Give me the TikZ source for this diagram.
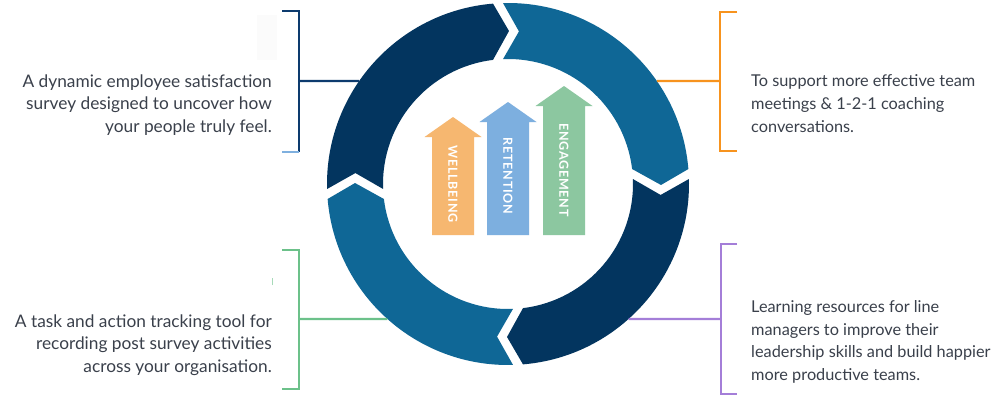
\documentclass[tikz,border=0pt]{standalone}
\usepackage{fontspec}
\setmainfont{Lato}
\definecolor{navy}{HTML}{03355F}
\definecolor{midblue}{HTML}{0F6796}
\definecolor{txtgray}{HTML}{3A404B}
\definecolor{brnavy}{HTML}{0D3B6E}
\definecolor{brlight}{HTML}{7FB0DF}
\definecolor{brorange}{HTML}{F7931E}
\definecolor{brgreen}{HTML}{6CC18A}
\definecolor{brpurple}{HTML}{A47ED8}
\definecolor{arrorange}{HTML}{F6B770}
\definecolor{arrblue}{HTML}{7DAFDF}
\definecolor{arrgreen}{HTML}{8CC7A0}
% ring segment: start break angle, end break angle, colour
\newcommand\ringseg[3]{%
  \fill[#3, shift={(508,216)}] ({#1+1.58}:181pt)
    arc[start angle={#1+1.58}, end angle={#2+4.75}, radius=181pt]
    -- ({#2-0.37}:153pt) -- ({#2+6.89}:125pt)
    arc[start angle={#2+6.89}, end angle={#1+2.29}, radius=125pt]
    -- ({#1-4.11}:153pt) -- cycle;}
% up arrow: centre x, bottom y, head base y, colour
\newcommand\uparr[4]{%
  \fill[#4] ({#1-21},#2) -- ({#1-21},#3) -- ({#1-28.5},#3) -- (#1,{#3+20})
    -- ({#1+28.5},#3) -- ({#1+21},#3) -- ({#1+21},#2) -- cycle;}
\begin{document}
\begin{tikzpicture}[x=1pt,y=1pt,
  desc/.style={font=\fontsize{17.3}{22.7}\selectfont, text=txtgray, inner sep=0pt},
  descr/.style={font=\fontsize{16.3}{22.7}\selectfont, text=txtgray, inner sep=0pt},
  brk/.style={line width=2.2pt},
  arrtxt/.style={rotate=-90, text=white, inner sep=0pt,
    font=\fontsize{12.5}{13}\selectfont\bfseries\addfontfeature{LetterSpace=6}}]
\useasboundingbox (0,0) rectangle (1000,400);
\fill[white] (0,0) rectangle (1000,400);
\coordinate (ctr) at (508,216);
% faint marks
\fill[gray!3] (257,340) rectangle (277,385);
\draw[brgreen!60, line width=1pt] (272,115) -- (272,122);
% ring
\ringseg{180}{90}{navy}
\ringseg{90}{0}{midblue}
\ringseg{0}{-90}{navy}
\ringseg{-90}{-180}{midblue}
% centre arrows
\uparr{453}{165}{263}{arrorange}
\uparr{508}{165}{278}{arrblue}
\uparr{564}{165}{294}{arrgreen}
\node[arrtxt] (wb) at (453,216) {WELLBEING};
\node[arrtxt] (rt) at (508,224) {RETENTION};
\node[arrtxt] (en) at (564,230) {ENGAGEMENT};
% ring contact points
\coordinate (r1) at ([shift={(145.3:181)}]ctr);
\coordinate (r2) at ([shift={(34.7:181)}]ctr);
\coordinate (r3) at ([shift={(228.2:181)}]ctr);
\coordinate (r4) at ([shift={(-48.2:181)}]ctr);
% bracket 1 (navy)
\coordinate (b1tt) at (282,389); \coordinate (b1t) at (299,389);
\coordinate (b1b) at (299,248); \coordinate (b1bt) at (282,248);
\coordinate (b1m) at (299,319);
\draw[brk, brnavy] (b1tt) -- (b1t) -- (b1b);
\draw[brk, brlight] (b1b) -- (b1bt);
\draw[brk, brnavy] (b1m) -- (r1);
% bracket 2 (orange)
\coordinate (b2tt) at (737,388); \coordinate (b2t) at (720,388);
\coordinate (b2b) at (720,249); \coordinate (b2bt) at (737,249);
\coordinate (b2m) at (720,319);
\draw[brk, brorange] (b2tt) -- (b2t) -- (b2b) -- (b2bt);
\draw[brk, brorange] (b2m) -- (r2);
% bracket 3 (green)
\coordinate (b3tt) at (282,150); \coordinate (b3t) at (299,150);
\coordinate (b3b) at (299,11); \coordinate (b3bt) at (282,11);
\coordinate (b3m) at (299,81);
\draw[brk, brgreen] (b3tt) -- (b3t) -- (b3b) -- (b3bt);
\draw[brk, brgreen] (b3m) -- (r3);
% bracket 4 (purple)
\coordinate (b4tt) at (737,156); \coordinate (b4t) at (721,156);
\coordinate (b4b) at (721,6); \coordinate (b4bt) at (737,6);
\coordinate (b4m) at (721,81);
\draw[brk, brpurple] (b4tt) -- (b4t) -- (b4b) -- (b4bt);
\draw[brk, brpurple] (b4m) -- (r4);
% texts
\node[desc, anchor=east, align=right] (t1) at (272,295)
  {A dynamic employee satisfaction\\survey designed to uncover how\\your people truly feel.};
\node[descr, anchor=west, align=left] (t2) at (751,296.5)
  {To support more effective team\\meetings \& 1-2-1 coaching\\conversations.};
\node[desc, anchor=east, align=right] (t3) at (272,55)
  {A task and action tracking tool for\\recording post survey activities\\across your organisation.};
\node[descr, anchor=west, align=left] (t4) at (751,58)
  {Learning resources for line\\managers to improve their\\leadership skills and build happier\\more productive teams.};
\end{tikzpicture}
\end{document}
